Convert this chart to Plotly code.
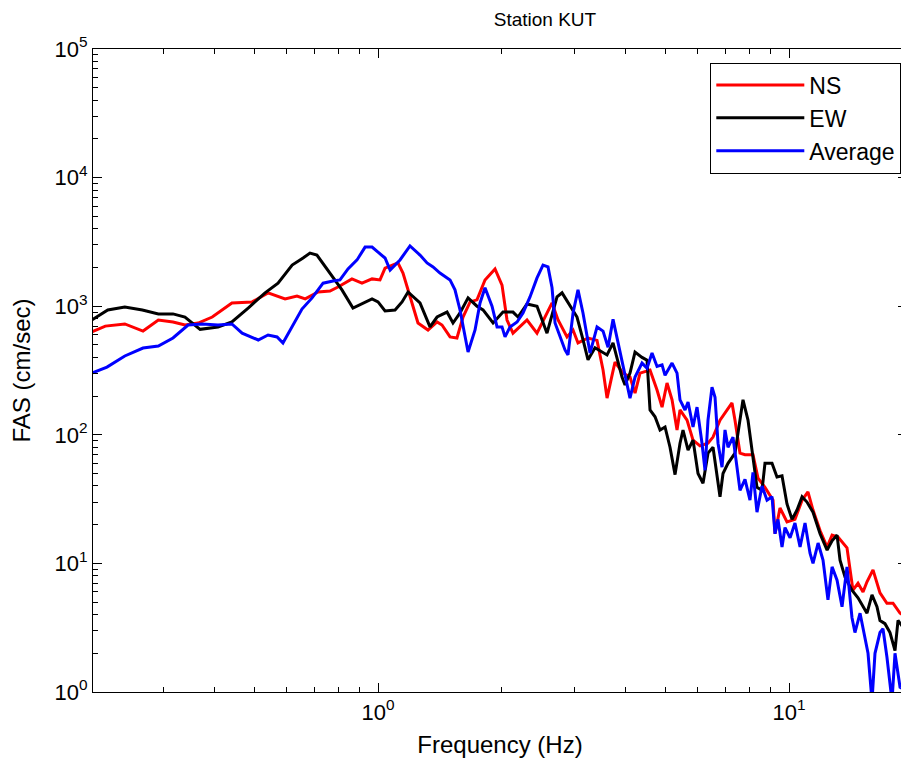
import numpy as np
import plotly.graph_objects as go

# ---------------- data ----------------
ns_freq = [0.201, 0.217, 0.242, 0.268, 0.292, 0.317, 0.339, 0.365, 0.395, 0.441, 0.494, 0.540,
           0.594, 0.635, 0.665, 0.715, 0.764, 0.799, 0.864, 0.914, 0.967, 1.011, 1.040, 1.088,
           1.118, 1.150, 1.196, 1.251, 1.323, 1.392, 1.431, 1.497, 1.556, 1.610, 1.675, 1.741,
           1.821, 1.926, 2.003, 2.060, 2.130, 2.216, 2.304, 2.437, 2.548, 2.651, 2.742, 2.883,
           2.982, 3.066, 3.243, 3.411, 3.528, 3.608, 3.710, 3.773, 3.945, 4.103, 4.220, 4.340,
           4.590, 4.774, 4.910, 5.049, 5.193, 5.340, 5.430, 5.648, 5.841, 6.074, 6.352, 6.533,
           6.794, 7.066, 7.266, 7.389, 7.599, 7.815, 8.173, 8.405, 8.741, 9.144, 9.246, 9.508,
           9.888, 10.34, 10.76, 11.12, 11.44, 11.90, 12.38, 12.73, 13.16, 13.84, 14.31, 14.72,
           15.14, 15.48, 16.01, 16.65, 17.31, 17.91, 18.63, 19.37]
ns_fas = [630, 700, 728, 641, 781, 754, 714, 740, 824, 1060, 1080, 1270,
          1140, 1200, 1140, 1290, 1310, 1410, 1630, 1510, 1630, 1600, 1980, 2090,
          2170, 1810, 1180, 740, 653, 754, 714, 577, 566, 824, 1080, 1120,
          1600, 1950, 1460, 781, 617, 690, 781, 617, 824, 1060, 781, 577,
          653, 518, 566, 542, 319, 193, 290, 368, 302, 281, 211, 302,
          319, 223, 164, 253, 187, 109, 156, 130, 91, 82, 86, 96,
          130, 156, 177, 130, 72, 70, 70, 46, 39, 31, 17, 27,
          21, 22, 31, 36, 26, 18, 13.4, 16.6, 16, 13.2, 6.2, 7.0,
          6.0, 7.2, 8.9, 5.9, 4.9, 4.9, 4.1, 3.8]

ew_freq = [0.201, 0.220, 0.242, 0.267, 0.292, 0.317, 0.339, 0.353, 0.369, 0.408, 0.441, 0.483,
           0.531, 0.571, 0.618, 0.657, 0.683, 0.710, 0.756, 0.817, 0.869, 0.914, 0.967, 1.000,
           1.040, 1.100, 1.144, 1.183, 1.265, 1.338, 1.392, 1.472, 1.522, 1.583, 1.656, 1.741,
           1.801, 1.905, 2.014, 2.130, 2.191, 2.304, 2.437, 2.577, 2.726, 2.804, 2.899, 3.049,
           3.153, 3.243, 3.373, 3.469, 3.608, 3.731, 3.923, 3.990, 4.103, 4.220, 4.389, 4.514,
           4.590, 4.721, 4.855, 4.993, 5.134, 5.281, 5.430, 5.522, 5.680, 5.841, 6.006, 6.177,
           6.352, 6.533, 6.681, 6.794, 6.909, 7.105, 7.389, 7.599, 7.728, 7.947, 8.128, 8.358,
           8.596, 8.741, 9.092, 9.350, 9.616, 9.888, 10.17, 10.46, 10.76, 11.06, 11.44, 11.90,
           12.38, 12.73, 13.09, 13.31, 13.69, 14.23, 14.72, 15.14, 15.48, 15.92, 16.37, 16.65,
           17.12, 17.61, 18.11, 18.42, 18.94, 19.47]
ew_fas = [781, 935, 986, 935, 871, 871, 824, 740, 661, 689, 754, 968,
          1270, 1510, 2090, 2370, 2590, 2500, 1910, 1340, 968, 1040, 1140, 1080,
          918, 935, 1080, 1290, 1060, 690, 824, 900, 740, 886, 1160, 1000,
          935, 740, 900, 900, 824, 1040, 1000, 617, 1180, 1270, 1060, 824,
          550, 383, 475, 450, 418, 518, 281, 244, 302, 440, 400, 380,
          156, 138, 109, 115, 80, 49, 86, 109, 76, 91, 50, 42,
          72, 80, 50, 33, 50, 60, 72, 130, 187, 130, 76, 39,
          37, 60, 60, 47, 48, 29, 22, 26, 33, 30, 25, 17,
          12.7, 15, 16.6, 10.6, 7.8, 6.2, 5.4, 4.6, 4.1, 5.7, 4.6, 3.6,
          3.4, 2.9, 2.1, 3.6, 3.2, 3.7]

avg_freq = [0.201, 0.219, 0.242, 0.268, 0.292, 0.317, 0.345, 0.373, 0.408, 0.441, 0.467, 0.511,
            0.540, 0.568, 0.587, 0.618, 0.653, 0.691, 0.735, 0.777, 0.808, 0.845, 0.889, 0.930,
            0.967, 1.000, 1.040, 1.070, 1.131, 1.196, 1.265, 1.316, 1.361, 1.415, 1.497, 1.539,
            1.583, 1.656, 1.722, 1.771, 1.821, 1.894, 1.948, 2.003, 2.037, 2.095, 2.179, 2.253,
            2.343, 2.437, 2.520, 2.592, 2.651, 2.696, 2.773, 2.851, 2.899, 2.982, 3.066, 3.153,
            3.280, 3.411, 3.528, 3.628, 3.731, 3.836, 3.945, 4.103, 4.220, 4.389, 4.514, 4.642,
            4.774, 4.910, 4.993, 5.193, 5.340, 5.430, 5.585, 5.680, 5.841, 5.973, 6.142, 6.246,
            6.352, 6.496, 6.607, 6.719, 6.871, 6.987, 7.105, 7.307, 7.472, 7.599, 7.815, 8.036,
            8.173, 8.358, 8.596, 8.841, 9.092, 9.246, 9.402, 9.616, 9.779, 10.06, 10.34, 10.64,
            10.94, 11.25, 11.44, 11.77, 12.10, 12.44, 12.73, 13.09, 13.46, 13.84, 14.23, 14.47,
            14.89, 15.31, 15.57, 15.92, 16.19, 16.65, 16.93, 17.31, 17.81, 18.11, 18.63, 19.15,
            19.47]
avg_fas = [302, 336, 410, 473, 490, 566, 714, 728, 714, 728, 617, 546,
           597, 577, 518, 690, 951, 1160, 1510, 1570, 1600, 1950, 2290, 2880,
           2880, 2630, 2370, 1910, 2290, 2940, 2500, 2170, 2020, 1810, 1600, 1340,
           935, 440, 653, 1060, 1390, 1000, 690, 690, 577, 690, 754, 886,
           1180, 1660, 2090, 2020, 1390, 740, 577, 457, 418, 886, 1340, 886,
           432, 690, 640, 480, 790, 518, 336, 193, 281, 361, 330, 432,
           340, 350, 290, 361, 302, 187, 156, 180, 115, 164, 86, 53,
           130, 235, 196, 86, 56, 109, 80, 96, 56, 37, 45, 31,
           51, 25, 40, 31, 33, 17, 22, 13.4, 19, 15.8, 20.6, 13.4,
           20.6, 12, 10, 14.4, 10.6, 5.2, 9.4, 7.4, 4.6, 9.4, 3.8, 2.9,
           4.1, 2.7, 2.0, 0.85, 2.0, 2.9, 3.1, 1.87, 0.85, 2.0, 1.09, 1.04,
           1.06]

series_names = ["NS", "EW", "Average"]
series_colors = ["#ff0000", "#000000", "#0000ff"]

y_tick_vals = [1, 10, 100, 1000, 10000, 100000]
y_tick_text = ["10<sup>0</sup>", "10<sup>1</sup>", "10<sup>2</sup>",
               "10<sup>3</sup>", "10<sup>4</sup>", "10<sup>5</sup>"]
x_tick_vals = [1, 10]
x_tick_text = ["10<sup>0</sup>", "10<sup>1</sup>"]

x_min, x_max = 0.2025, 19.37
y_min, y_max = 1, 100000

# ---------------- figure ----------------
FONT = "Liberation Sans, Arial, sans-serif"
fig = go.Figure()
for name, col, fx, fy in zip(series_names, series_colors,
                             [ns_freq, ew_freq, avg_freq], [ns_fas, ew_fas, avg_fas]):
    fig.add_trace(go.Scatter(x=fx, y=fy, mode="lines", name=name,
                             line=dict(color=col, width=3)))

x_minor = [m * 10.0 ** d for d in range(-1, 2) for m in range(2, 10)]
y_minor = [m * 10.0 ** d for d in range(0, 5) for m in range(2, 10)]

axis_common = dict(
    showline=True, linecolor="black", linewidth=1.2, mirror="ticks",
    ticks="inside", ticklen=9, tickwidth=1, tickcolor="black",
    showgrid=False, zeroline=False,
    tickfont=dict(family=FONT, size=22, color="black"),
)

# The page body has an 8px margin, so the figure is sized to fit the window.
fig.update_layout(
    width=901, height=768,
    margin=dict(l=85, r=2, t=41, b=84, autoexpand=False),
    paper_bgcolor="white", plot_bgcolor="white",
    title=dict(text="Station KUT", x=0.596, xanchor="center", y=0.985, yanchor="middle",
               font=dict(family=FONT, size=19, color="black")),
    showlegend=True,
    legend=dict(x=0.993, xanchor="right", y=0.979, yanchor="top",
                bgcolor="white", bordercolor="black", borderwidth=1,
                itemwidth=88,
                font=dict(family=FONT, size=23, color="black")),
    xaxis=dict(type="log", range=[np.log10(x_min), np.log10(x_max)],
               tickmode="array", tickvals=x_tick_vals, ticktext=x_tick_text,
               minor=dict(tickmode="array", tickvals=x_minor, ticks="inside",
                          ticklen=5, tickcolor="black", showgrid=False),
               title=dict(text="Frequency (Hz)", standoff=12,
                          font=dict(family=FONT, size=24, color="black")),
               **axis_common),
    yaxis=dict(type="log", range=[np.log10(y_min), np.log10(y_max)],
               tickmode="array", tickvals=y_tick_vals, ticktext=y_tick_text,
               minor=dict(tickmode="array", tickvals=y_minor, ticks="inside",
                          ticklen=5, tickcolor="black", showgrid=False),
               title=dict(text="FAS (cm/sec)", standoff=18,
                          font=dict(family=FONT, size=24, color="black")),
               **axis_common),
)

fig.write_html("out.html")
